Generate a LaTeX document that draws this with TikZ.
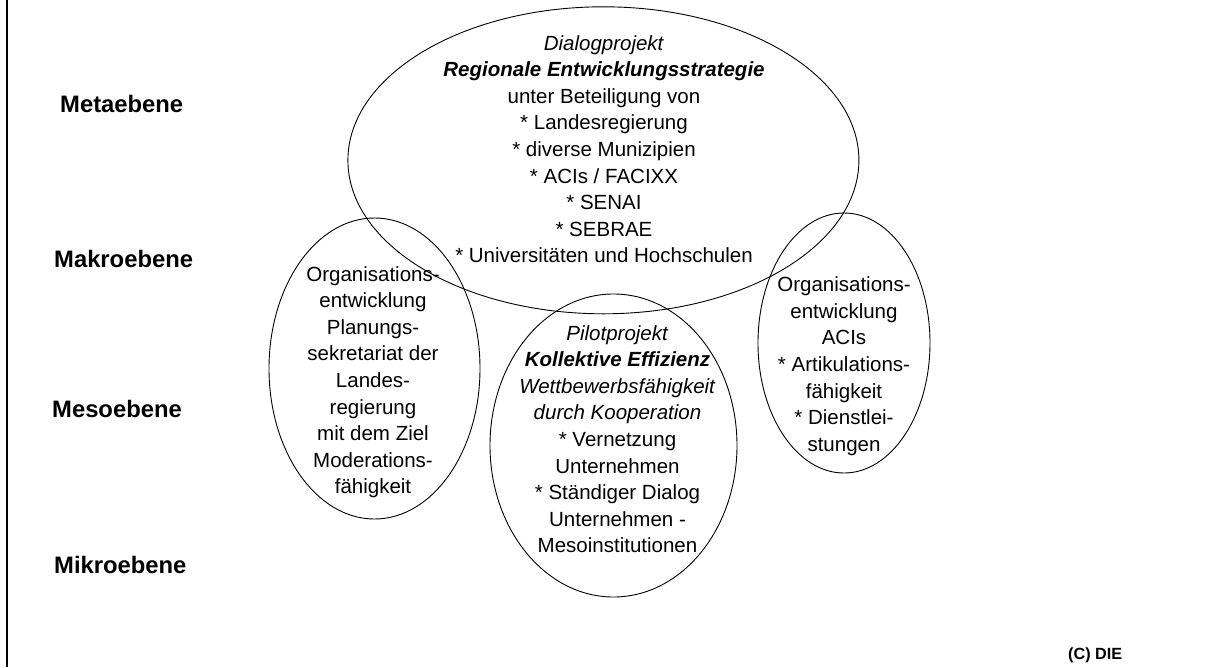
\documentclass[tikz,border=0pt]{standalone}
\usepackage{fontspec}
\setmainfont{Liberation Sans}
\usetikzlibrary{shapes.geometric}
\begin{document}
\begin{tikzpicture}[x=1pt,y=-1pt,
  oval/.style={ellipse,draw,line width=0.9pt,inner sep=0pt},
  bodytext/.style={align=center,anchor=north,inner sep=0pt,font=\fontsize{20.5}{26.6}\selectfont},
  levellabel/.style={anchor=base west,inner sep=0pt,font=\fontsize{23.8}{28}\selectfont\bfseries},
  framestyle/.style={line width=2pt}]
\useasboundingbox (0,0) rectangle (1226,667);
\fill[white] (0,0) rectangle (1226,667);
% frame line on the left
\coordinate (ftop) at (6.7,0);
\coordinate (fbot) at (6.7,667);
\draw[framestyle] (ftop) -- (fbot);
% level labels
\node[levellabel] (meta)  at (60,112) {Metaebene};
\node[levellabel] (makro) at (54,267) {Makroebene};
\node[levellabel] (meso)  at (52,417) {Mesoebene};
\node[levellabel] (mikro) at (54,573) {Mikroebene};
% ellipses
\node[oval,minimum width=511pt,minimum height=307pt] (big) at (603.4,160.3) {};
\node[oval,minimum width=211pt,minimum height=301pt] (left) at (374.5,368.5) {};
\node[oval,minimum width=247pt,minimum height=303pt] (mid) at (613.5,445.5) {};
\node[oval,minimum width=172pt,minimum height=260pt] (right) at (844,343) {};
% texts
\node[bodytext] (bigtext) at (604,35) {\textit{Dialogprojekt}\\
\textbf{\textit{Regionale Entwicklungsstrategie}}\\
unter Beteiligung von\\
* Landesregierung\\
* diverse Munizipien\\
* ACIs / FACIXX\\
* SENAI\\
* SEBRAE\\
* Universitäten und Hochschulen};
\node[bodytext] (lefttext) at (373,266) {Organisations-\\
entwicklung\\
Planungs-\\
sekretariat der\\
Landes-\\
regierung\\
mit dem Ziel\\
Moderations-\\
fähigkeit};
\node[bodytext] (midtext) at (617.5,325) {\textit{Pilotprojekt}\\
\textbf{\textit{Kollektive Effizienz}}\\
\textit{Wettbewerbsfähigkeit}\\
\textit{durch Kooperation}\\
* Vernetzung\\
Unternehmen\\
* Ständiger Dialog\\
Unternehmen -\\
Mesoinstitutionen};
\node[bodytext] (righttext) at (844,276.7) {Organisations-\\
entwicklung\\
ACIs\\
* Artikulations-\\
fähigkeit\\
* Dienstlei-\\
stungen};
% copyright
\node[anchor=base west,inner sep=0pt,font=\fontsize{16.2}{18}\selectfont\bfseries] (copy) at (1068,659) {(C) DIE};
\end{tikzpicture}
\end{document}
